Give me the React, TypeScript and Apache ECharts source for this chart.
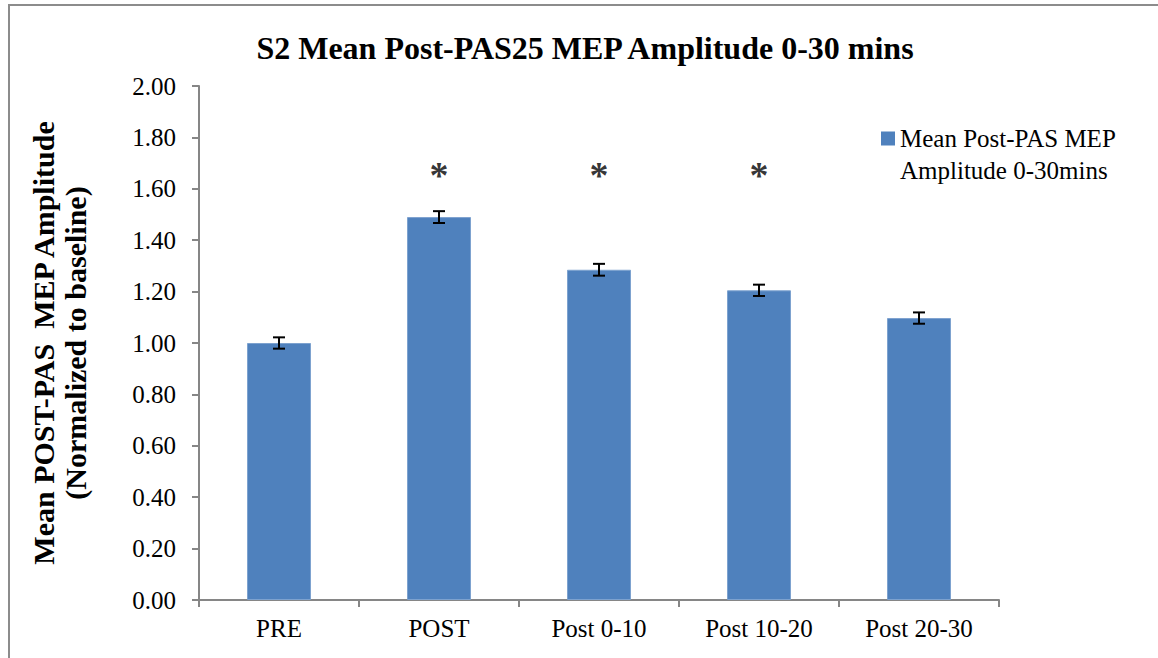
import React, { useEffect, useRef } from "react";
import * as echarts from "echarts";

const categories = ["PRE", "POST", "Post 0-10", "Post 10-20", "Post 20-30"];
const meanValues = [1.0, 1.49, 1.285, 1.205, 1.097];
const errorValues = [0.022, 0.023, 0.023, 0.022, 0.022];
const starValues: (number | null)[] = [null, 1.67, 1.67, 1.67, null];
const yTicks = { min: 0, max: 2, interval: 0.2 };
const seriesName = "Mean Post-PAS MEP Amplitude 0-30mins";

const FONT = "Liberation Serif";

export default function App() {
  const ref = useRef<HTMLDivElement>(null);
  useEffect(() => {
    if (!ref.current) return;
    const chart = echarts.init(ref.current, null, { renderer: "svg" });
    const errData = categories.map((_, i) => [i, meanValues[i] - errorValues[i], meanValues[i] + errorValues[i]]);
    chart.setOption({
      animation: false,
      backgroundColor: "#ffffff",
      textStyle: { fontFamily: FONT },
      title: {
        text: "S2 Mean Post-PAS25 MEP Amplitude 0-30 mins",
        left: 580,
        textAlign: "center",
        top: 27,
        textStyle: { fontFamily: FONT, fontSize: 32, fontWeight: "bold", color: "#000" },
      },
      legend: {
        data: [seriesName],
        left: 876,
        top: 117,
        icon: "path://M0,0H14V14H0Z M0,45L0.01,45",
        itemWidth: 14,
        itemHeight: 45,
        itemGap: 6,
        itemStyle: { borderWidth: 0 },
        formatter: () => "Mean Post-PAS MEP\nAmplitude 0-30mins",
        textStyle: { fontFamily: FONT, fontSize: 25, color: "#000", lineHeight: 32 },
      },
      grid: { left: 199, top: 86, width: 800, height: 514, containLabel: false },
      xAxis: {
        type: "category",
        data: categories,
        axisLine: { lineStyle: { color: "#868686", width: 2 } },
        axisTick: { show: true, length: 7, lineStyle: { color: "#868686", width: 2 } },
        axisLabel: { fontFamily: FONT, fontSize: 25, color: "#000", margin: 16 },
      },
      yAxis: {
        type: "value",
        min: yTicks.min,
        max: yTicks.max,
        interval: yTicks.interval,
        name: "Mean POST-PAS  MEP Amplitude\n(Normalized to baseline)",
        nameLocation: "middle",
        nameRotate: 90,
        nameGap: 108,
        nameTextStyle: { fontFamily: FONT, fontSize: 30, fontWeight: "bold", color: "#000", lineHeight: 32 },
        splitLine: { show: false },
        axisLine: { show: true, lineStyle: { color: "#868686", width: 2 } },
        axisTick: { show: true, length: 7, lineStyle: { color: "#868686", width: 2 } },
        axisLabel: { fontFamily: FONT, fontSize: 25, color: "#000", margin: 23, formatter: (v: number) => v.toFixed(2) },
      },
      graphic: [
        { type: "line", shape: { x1: 9, y1: 5, x2: 9, y2: 658 }, style: { stroke: "#8c8c8c", lineWidth: 2 }, z: 0 },
        { type: "line", shape: { x1: 8, y1: 5, x2: 1158, y2: 5 }, style: { stroke: "#8c8c8c", lineWidth: 2 }, z: 0 },
      ],
      series: [
        {
          name: seriesName,
          type: "bar",
          data: meanValues,
          barWidth: "40%",
          itemStyle: { color: "#4F81BD", borderColor: "#7DA2CF", borderWidth: 1 },
        },
        {
          type: "custom",
          name: "err",
          data: errData,
          z: 10,
          renderItem: (params: any, api: any) => {
            const x = api.value(0);
            const lo = api.coord([x, api.value(1)]);
            const hi = api.coord([x, api.value(2)]);
            const hw = 6;
            const style = { stroke: "#000", lineWidth: 2 };
            return {
              type: "group",
              children: [
                { type: "line", shape: { x1: lo[0], y1: lo[1], x2: hi[0], y2: hi[1] }, style },
                { type: "line", shape: { x1: lo[0] - hw, y1: lo[1], x2: lo[0] + hw, y2: lo[1] }, style },
                { type: "line", shape: { x1: hi[0] - hw, y1: hi[1], x2: hi[0] + hw, y2: hi[1] }, style },
              ],
            };
          },
        },
        {
          type: "scatter",
          name: "sig",
          data: starValues,
          symbolSize: 0,
          label: {
            show: true,
            position: "inside",
            formatter: "*",
            fontFamily: FONT,
            fontSize: 38,
            fontWeight: "bold",
            color: "#000",
            offset: [0, 4],
          },
        },
      ],
    });
    return () => chart.dispose();
  }, []);
  return (
    <div
      ref={ref}
      style={{ position: "absolute", left: 0, top: 0, width: 1158, height: 658 }}
    />
  );
}
